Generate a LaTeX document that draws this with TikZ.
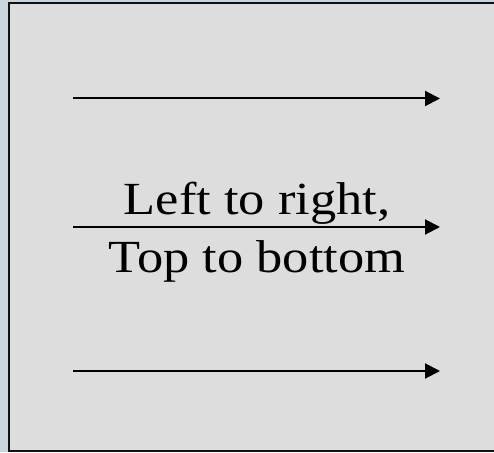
\documentclass[tikz,border=0pt]{standalone}
\usepackage{fontspec}
\setmainfont{Liberation Serif}[FakeStretch=1.14]
\usetikzlibrary{arrows.meta}
\definecolor{outerbg}{HTML}{C9D5DC}
\definecolor{panel}{HTML}{DDDDDD}
\definecolor{edge}{HTML}{111111}
\tikzset{
  flow/.style={line width=2pt, draw=black, -{Triangle[length=15pt,width=15pt]}},
  label/.style={align=center, font=\fontsize{46pt}{58pt}\selectfont, inner sep=0pt, anchor=base}
}
\begin{document}
\begin{tikzpicture}[x=1pt,y=1pt]
\useasboundingbox (0,0) rectangle (494,452);
\fill[outerbg] (0,0) rectangle (494,452);
\draw[fill=panel, draw=edge, line width=2pt] (9,449) rectangle (505,1.5);
\coordinate (a1) at (73,353.5);
\coordinate (b1) at (440,353.5);
\coordinate (a2) at (73,225);
\coordinate (b2) at (440,225);
\coordinate (a3) at (73,81);
\coordinate (b3) at (440,81);
\draw[flow] (a1) -- (b1);
\draw[flow] (a2) -- (b2);
\node[label] (t) at (257,179) {Left to right,\\Top to bottom};
\draw[flow] (a3) -- (b3);
\end{tikzpicture}
\end{document}
